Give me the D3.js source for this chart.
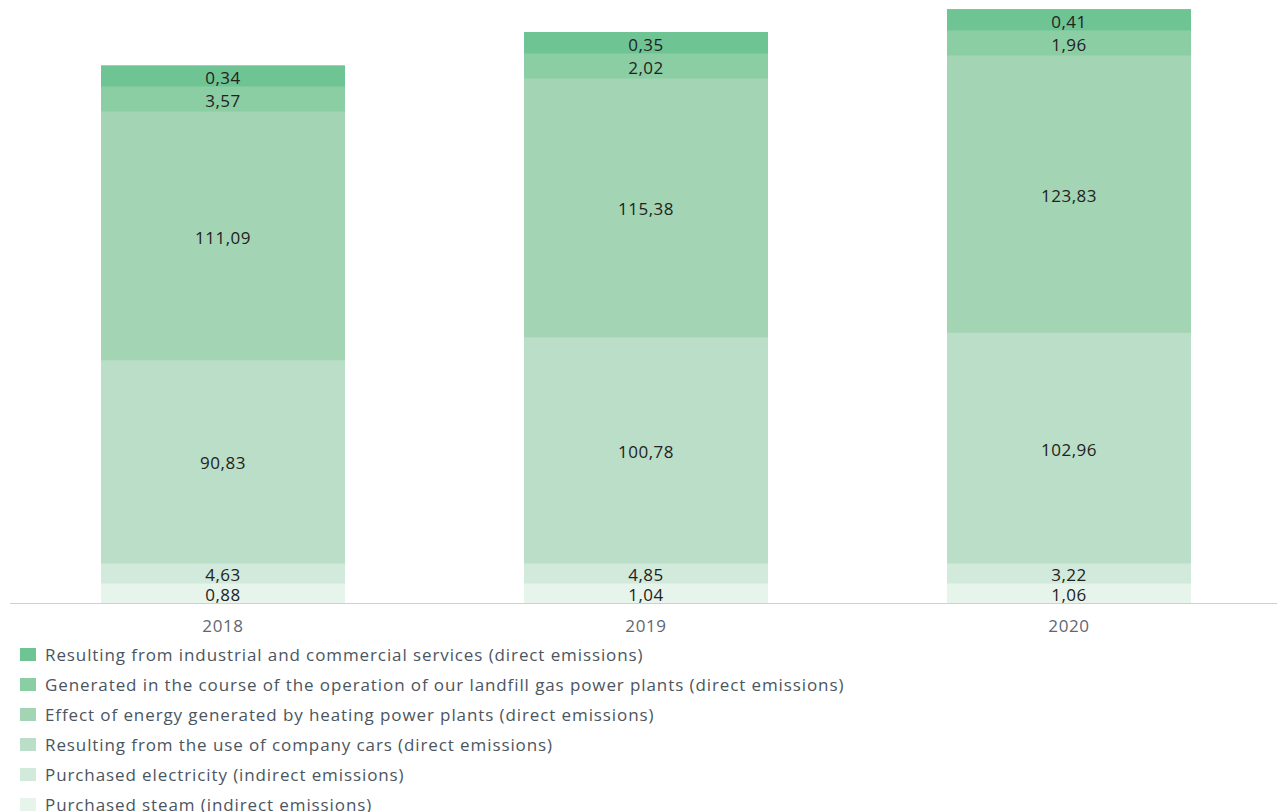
<!DOCTYPE html>
<html>
<head>
<meta charset="utf-8">
<script src="https://cdn.jsdelivr.net/npm/d3@7"></script>
<style>
  body { margin: 0; background: #fff; }
  svg text { font-family: "Open Sans", Lato, sans-serif; }
</style>
</head>
<body>
<div id="container"></div>
<script>
/* DATA */
const years = ["2018", "2019", "2020"];
// series listed bottom -> top of the stack
const seriesNames = [
  "Purchased steam (indirect emissions)",
  "Purchased electricity (indirect emissions)",
  "Resulting from the use of company cars (direct emissions)",
  "Effect of energy generated by heating power plants (direct emissions)",
  "Generated in the course of the operation of our landfill gas power plants (direct emissions)",
  "Resulting from industrial and commercial services (direct emissions)"
];
const steam       = [0.88, 1.04, 1.06];
const electricity = [4.63, 4.85, 3.22];
const cars        = [90.83, 100.78, 102.96];
const heating     = [111.09, 115.38, 123.83];
const landfill    = [3.57, 2.02, 1.96];
const industrial  = [0.34, 0.35, 0.41];
const seriesValues = [steam, electricity, cars, heating, landfill, industrial];

/* CONSTANTS */
const width = 1277, height = 812;
const baseY = 603;
const colors = ["#e7f4eb", "#d1eadb", "#badec7", "#a3d4b4", "#8bcea4", "#6fc494"];
const minSegH = [20, 20, 0, 0, 25, 21];   // small segments get a readable height

const svg = d3.select("#container")
  .append("svg")
  .attr("width", width)
  .attr("height", height);

// SCALES
const x = d3.scaleBand()
  .domain(years)
  .range([101, 1191])
  .paddingInner(0.4232)
  .paddingOuter(0);

const y = d3.scaleLinear()
  .domain([0, 237])
  .range([baseY, 0]);

const fmt = v => d3.format(".2f")(v).replace(".", ",");

// build segments per year: bar top from total, small segments fixed height,
// big ones share what is left proportionally
const segments = [];
years.forEach((yr, i) => {
  const vals = seriesValues.map(s => s[i]);
  const total = d3.sum(vals);
  const barH = baseY - y(total);
  const fixed = d3.sum(vals, (v, k) => minSegH[k]);
  const bigSum = d3.sum(vals, (v, k) => minSegH[k] ? 0 : v);
  let cur = baseY;
  vals.forEach((v, k) => {
    const h = minSegH[k] ? minSegH[k] : (barH - fixed) * v / bigSum;
    segments.push({ year: yr, k, value: v, y0: cur - h, h });
    cur -= h;
  });
});

// BARS
svg.selectAll("rect.seg")
  .data(segments)
  .join("rect")
  .attr("class", "seg")
  .attr("x", d => x(d.year))
  .attr("width", x.bandwidth())
  .attr("y", d => d.y0)
  .attr("height", d => d.h + 0.5)
  .attr("fill", d => colors[d.k]);

// VALUE LABELS
svg.selectAll("text.val")
  .data(segments)
  .join("text")
  .attr("class", "val")
  .attr("x", d => x(d.year) + x.bandwidth() / 2)
  .attr("y", d => d.y0 + d.h / 2 + 8)
  .attr("text-anchor", "middle")
  .attr("font-size", 17)
  .attr("letter-spacing", 0.5)
  .attr("fill", "#222")
  .text(d => fmt(d.value));

// AXIS LINE + YEARS
svg.append("line")
  .attr("x1", 10).attr("x2", width)
  .attr("y1", baseY + 0.5).attr("y2", baseY + 0.5)
  .attr("stroke", "#d0d0d0");

svg.selectAll("text.year")
  .data(years)
  .join("text")
  .attr("class", "year")
  .attr("x", d => x(d) + x.bandwidth() / 2)
  .attr("y", 632)
  .attr("text-anchor", "middle")
  .attr("font-size", 17)
  .attr("letter-spacing", 0.6)
  .attr("fill", "#5f6770")
  .text(d => d);

// LEGEND (top entry first)
const legendOrder = d3.range(seriesNames.length).reverse();
const legend = svg.selectAll("g.legend")
  .data(legendOrder)
  .join("g")
  .attr("class", "legend")
  .attr("transform", (d, i) => `translate(20, ${648 + i * 30})`);

legend.append("rect")
  .attr("width", 16)
  .attr("height", 13)
  .attr("fill", d => colors[d]);

legend.append("text")
  .attr("x", 25)
  .attr("y", 12.5)
  .attr("font-size", 17)
  .attr("letter-spacing", 0.9)
  .attr("fill", "#4b5560")
  .text(d => seriesNames[d]);
</script>
</body>
</html>
